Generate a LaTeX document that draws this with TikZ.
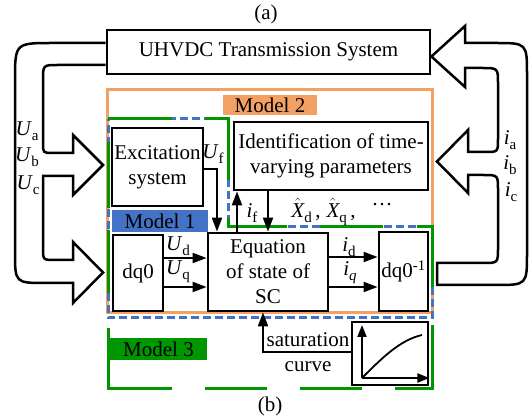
\documentclass[tikz,border=0pt]{standalone}
\usepackage{fontspec}
\setmainfont{Liberation Serif}
\usetikzlibrary{arrows.meta}
\definecolor{morange}{RGB}{243,160,100}
\definecolor{mblue}{RGB}{68,114,196}
\definecolor{mgreen}{RGB}{0,150,0}
\newcommand\labsub[2]{\textit{#1}\raisebox{-0.5ex}{\fontsize{15}{15}\selectfont #2}}
\newcommand\hatX{$\hat{\hbox{\itshape X}}$}
\begin{document}
\begin{tikzpicture}[x=1pt,y=-1pt,
  font=\fontsize{21}{25}\selectfont,
  box/.style={draw, line width=2.8pt, inner sep=0pt, align=center},
  arr/.style={line width=2pt, -{Triangle[length=14pt,width=10pt]}},
  arrs/.style={line width=2pt, -{Triangle[length=12pt,width=9pt]}},
  hollow/.style={draw, line width=2.5pt, line join=miter},
  lbl/.style={inner sep=0pt},
  tag/.style={inner sep=0pt, minimum height=22pt, minimum width=96pt},
  grn/.style={mgreen, line width=3pt}
]
\useasboundingbox (0,0) rectangle (531,417);

% Model 2 (orange)
\draw[morange, line width=3pt] (107,90) rectangle (432,313);
\node[tag, fill=morange, minimum width=94pt, minimum height=20pt] (m2) at (270,105) {Model 2};

% Model 1 (blue dashed)
\draw[mblue, line width=3pt, dash pattern=on 8pt off 4pt]
  (108,119) -- (228,119) -- (228,227) -- (432,227) -- (432,318) -- (108,318) -- cycle;
\node[tag, fill=mblue] (m1) at (160,221) {Model 1};

% Model 3 (green long dashes)
\draw[grn] (108,119) -- (172,119);
\draw[grn] (205,119) -- (228,119) -- (228,180);
\draw[grn] (228,218) -- (228,227) -- (287,227);
\draw[grn] (320,227) -- (383,227);
\draw[grn] (417,227) -- (432,227) -- (432,287);
\draw[grn] (432,325) -- (432,388) -- (395,388);
\draw[grn] (362,388) -- (300,388);
\draw[grn] (267,388) -- (205,388);
\draw[grn] (172,388) -- (108,388) -- (108,328);
\draw[grn] (108,293) -- (108,230);
\draw[grn] (108,208) -- (108,142);
\node[tag, fill=mgreen, minimum width=97pt] (m3) at (158.5,349) {Model 3};

% captions
\node[lbl] (capa) at (266,14) {(a)};
\node[lbl] (capb) at (270,406) {(b)};

% boxes
\node[box, minimum width=323pt, minimum height=44pt] (uhvdc) at (268.5,52) {UHVDC Transmission System};
\node[box, minimum width=91pt, minimum height=78pt] (exc) at (157.5,167) {Excitation\\system};
\node[box, minimum width=194pt, minimum height=68pt] (ident) at (331,156) {Identification of time-\\varying parameters};
\node[box, minimum width=50pt, minimum height=76pt] (dq) at (138,273) {dq0};
\node[box, minimum width=120pt, minimum height=78pt] (eq) at (268,272) {Equation\\of state of\\SC};
\node[box, minimum width=49pt, minimum height=79pt] (dqi) at (403.5,271.5) {dq0\textsuperscript{-1}};
\node[box, minimum width=76pt, minimum height=63pt] (sat) at (390,353.5) {};

% saturation curve inside
\coordinate (o) at (362,378);
\draw[arrs] (o) -- (362,325);
\draw[arrs] (o) -- (sat.east |- o);
\draw[line width=1.8pt] (o) .. controls (382,358) and (400,340) .. (422,335);

% connectors
\draw[arr] (dq.east |- 0,258) -- (eq.west |- 0,258);
\draw[arr] (dq.east |- 0,287) -- (eq.west |- 0,287);
\draw[arr] (eq.east |- 0,257) -- (dqi.west |- 0,257);
\draw[arr] (eq.east |- 0,287) -- (dqi.west |- 0,287);
\draw[arr] (exc.east |- 0,169) -| (eq.north -| 217,0);
\draw[arr] (eq.north -| 237,0) -- (ident.south -| 237,0);
\draw[arr] (ident.south -| 268,0) -- (eq.north -| 268,0);
\draw[arr] (sat.west |- 0,352) -| (eq.south -| 263,0);
\node[lbl, align=center] (sattxt) at (308,352.5) {saturation\\curve};

% labels
\node[lbl] (lud) at (178,246) {\labsub{U}{d}};
\node[lbl] (luq) at (178,272) {\labsub{U}{q}};
\node[lbl] (lid) at (349,247) {\labsub{i}{d}};
\node[lbl] (liq) at (350,273) {\labsub{i}{\itshape q}};
\node[lbl] (luf) at (213,154) {\labsub{U}{f}};
\node[lbl] (lif) at (252,213) {\labsub{i}{f}};
\node[lbl] (lx) at (342,212) {\hatX\raisebox{-0.5ex}{\fontsize{15}{15}\selectfont d}\,,\hspace{6pt}\hatX\raisebox{-0.5ex}{\fontsize{15}{15}\selectfont q}\,,\hspace{16pt}\raisebox{0.6ex}{···}};
\node[lbl] (lua) at (27,131) {\labsub{U}{a}};
\node[lbl] (lub) at (27,157) {\labsub{U}{b}};
\node[lbl] (luc) at (28,185) {\labsub{U}{c}};
\node[lbl] (lia) at (510,140) {\labsub{i}{a}};
\node[lbl] (lib) at (510,165) {\labsub{i}{b}};
\node[lbl] (lic) at (511,192) {\labsub{i}{c}};

% hollow arrows
\draw[hollow] (uhvdc.west |- 0,43) -- (53,43) .. controls (15,43) .. (15,81) -- (15,252)
  .. controls (15,283) .. (46,283) -- (73,283) -- (73,303) -- (103,272.5) -- (73,242) -- (73,260)
  -- (55,260) .. controls (43,260) .. (43,248) -- (43,176) -- (73,176) -- (73,195) -- (103,165)
  -- (73,135) -- (73,153) -- (53,153) .. controls (43,153) .. (43,143) -- (43,80)
  .. controls (43,65) .. (58,65) -- (uhvdc.west |- 0,65);
\draw[hollow] (uhvdc.east |- 0,56.5) -- (465,26) -- (465,43) -- (495,43) .. controls (527,43) .. (527,75)
  -- (527,253) .. controls (527,285) .. (495,285) -- (437,285) -- (437,263) -- (483,263)
  .. controls (498,263) .. (498,248) -- (498,190) .. controls (498,175) .. (483,175) -- (468,175)
  -- (468,193) -- (437,161.5) -- (468,130) -- (468,152) -- (485,152) .. controls (498,152) .. (498,139)
  -- (498,84) .. controls (498,68) .. (482,68) -- (465,68) -- (465,87) -- cycle;
\end{tikzpicture}
\end{document}
